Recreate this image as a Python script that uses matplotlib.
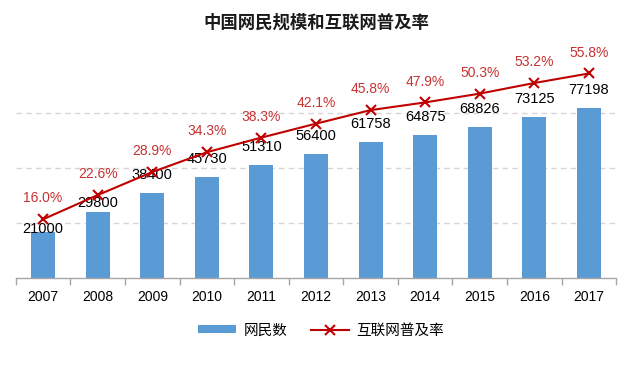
#!/usr/bin/env python3
'''中国网民规模和互联网普及率 bar + line chart'''

import numpy as np
import matplotlib
matplotlib.use('Agg')
import matplotlib.pyplot as plt
from matplotlib.lines import Line2D
from matplotlib.patches import Patch

plt.rcParams['font.family'] = ['Liberation Sans', 'Noto Sans CJK SC', 'DejaVu Sans']

#----- Data -----#

years = ['2007', '2008', '2009', '2010', '2011', '2012', '2013', '2014', '2015', '2016', '2017']
users = [21000, 29800, 38400, 45730, 51310, 56400, 61758, 64875, 68826, 73125, 77198]
rate = [16.0, 22.6, 28.9, 34.3, 38.3, 42.1, 45.8, 47.9, 50.3, 53.2, 55.8]

title = '中国网民规模和互联网普及率'
label_users = '网民数'
label_rate = '互联网普及率'

bar_color = '#5B9BD5'
line_color = '#C00000'
pct_color = '#C83232'

#----- Figure -----#

fig = plt.figure(figsize=(6.32, 3.70), dpi=100)
ax = fig.add_axes([0.025, 0.249, 0.95, 0.594])

x = np.arange(len(years))
ax.bar(x, users, width=0.44, color=bar_color, zorder=2)

ax.set_xlim(-0.5, len(years) - 0.5)
ax.set_ylim(0, 100000)
ax.set_yticks([25000, 50000, 75000])
ax.yaxis.grid(True, linestyle=(0, (4, 3)), color='#D6D6D6', linewidth=1.0, zorder=1)

for s in ['top', 'right', 'left']:
	ax.spines[s].set_visible(False)
ax.spines['bottom'].set_color('#A6A6A6')
ax.spines['bottom'].set_linewidth(1.0)

ax.set_xticks(x)
ax.set_xticklabels(years, fontsize=10)
ax.tick_params(axis='x', which='major', length=0, pad=9)
ax.set_xticks(np.arange(len(years) + 1) - 0.5, minor=True)
ax.tick_params(axis='x', which='minor', length=5, color='#A6A6A6', width=1.0)

# value labels sit above the bars, the first two pushed down clear of the line
for i, (xi, v) in enumerate(zip(x, users)):
	off = {0: 2, 1: 6.5}.get(i, 13)
	ax.annotate('%d' % v, (xi, v), xytext=(0, off), textcoords='offset points',
		ha='center', va='center', fontsize=10.5, color='black', zorder=4)

ax.patch.set_alpha(0)

ax2 = ax.twinx()
ax2.set_ylim(0, 60)
ax2.plot(x, rate, color=line_color, linewidth=1.5, marker='x', markersize=7,
	markeredgewidth=1.5, zorder=3)
ax2.axis('off')

# twinx turns the left ticks back on
ax.tick_params(axis='y', left=False, labelleft=False, right=False, labelright=False)

for xi, r in zip(x, rate):
	ax2.annotate('%.1f%%' % r, (xi, r), xytext=(0, 15), textcoords='offset points',
		ha='center', va='center', fontsize=10, color=pct_color)

fig.text(0.5, 0.94, title, ha='center', va='center', fontsize=12.5, fontweight='bold',
	color='#1A1A1A')

handles = [Patch(facecolor=bar_color, edgecolor='none'),
	Line2D([0], [0], color=line_color, linewidth=1.5, marker='x', markersize=7,
		markeredgewidth=1.5)]
fig.legend(handles, [label_users, label_rate], loc='center', bbox_to_anchor=(0.508, 0.107),
	ncol=2, frameon=False, fontsize=10.5, handlelength=2.6, handleheight=0.5,
	columnspacing=1.6, handletextpad=0.5)

fig.savefig('out.png', dpi=100)
